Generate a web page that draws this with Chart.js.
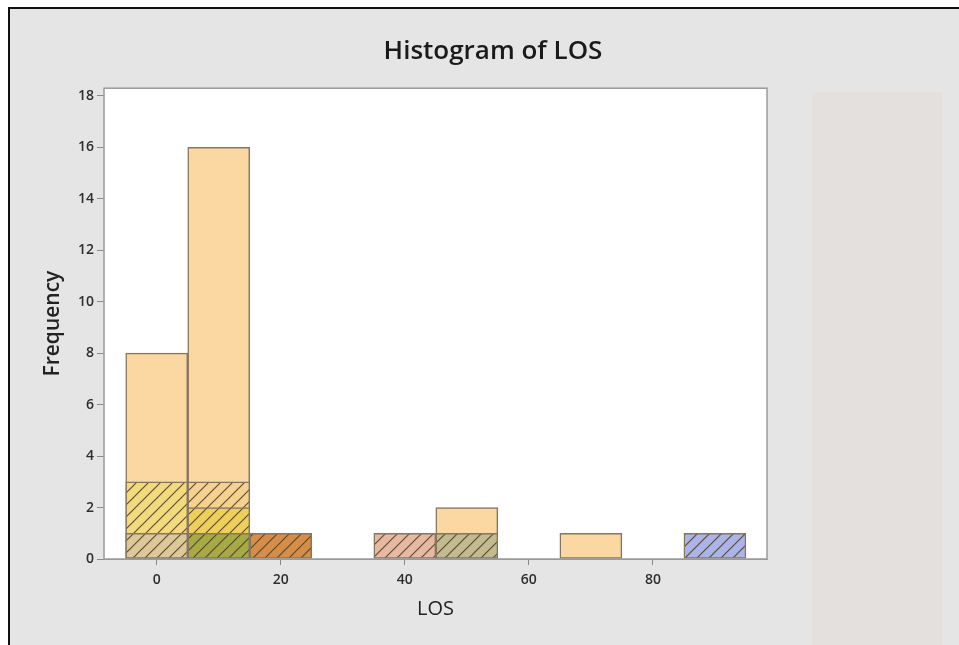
<!DOCTYPE html>
<html>
<head>
<meta charset="utf-8">
<script src="https://cdn.jsdelivr.net/npm/chart.js@4"></script>
<style>
  html, body { margin: 0; padding: 0; background: #ffffff; }
  .frame {
    position: absolute; left: 8px; top: 7px; width: 949px; height: 636px;
    border-left: 2px solid #111; border-top: 2px solid #111;
    background: #e5e5e5;
  }
  .side-panel {
    position: absolute; left: 802px; top: 83px; width: 130px; height: 553px;
    background: #e4e0dd;
  }
  #histChart { position: absolute; left: 0; top: 0; }
</style>
</head>
<body>
<div class="frame">
  <div class="side-panel"></div>
  <canvas id="histChart" width="949" height="636"></canvas>
</div>
<script>
// ========== Data ==========
const binCenters = [0, 10, 20, 30, 40, 50, 60, 70, 80, 90];

// overlaid groups, drawn from the back to the front
const groupPlain  = [8, 16, null, null, null, 2, null, 1, null, null];
const groupThree  = [3, 3, null, null, null, null, null, null, null, null];
const groupTwo    = [null, 2, null, null, null, null, null, null, null, null];
const groupSingle = [1, 1, 1, null, 1, 1, null, null, null, 1];

const yTicks = [0, 2, 4, 6, 8, 10, 12, 14, 16, 18];
const xTicks = [0, 20, 40, 60, 80];

const peach = '#fbd8a1';
const edge = '#85765f';
const threeColors  = ['#f4da7e', '#f6d18f'];
const twoColors    = [null, '#eecf5c'];
const singleColors = ['#dcc899', '#a5aa44', '#d68d48', null, '#e8b9a2', '#c2bb90', null, null, null, '#abb4e8'];

// diagonal hatch pattern on a base fill
function hatch(base) {
  if (!base) return 'rgba(0,0,0,0)';
  const size = 12;
  const c = document.createElement('canvas');
  c.width = size; c.height = size;
  const g = c.getContext('2d');
  g.fillStyle = base;
  g.fillRect(0, 0, size, size);
  g.strokeStyle = 'rgba(80, 64, 36, 0.9)';
  g.lineWidth = 1.2;
  g.beginPath();
  g.moveTo(0, size); g.lineTo(size, 0);
  g.moveTo(-size / 2, size / 2); g.lineTo(size / 2, -size / 2);
  g.moveTo(size / 2, size * 1.5); g.lineTo(size * 1.5, size / 2);
  g.stroke();
  return g.createPattern(c, 'repeat');
}

function toPoints(values) {
  return binCenters.map((x, i) => ({ x: x, y: values[i] }));
}

function barSet(label, values, fill, order) {
  return {
    label: label,
    data: toPoints(values),
    backgroundColor: fill,
    borderColor: edge,
    borderWidth: 1.5,
    borderSkipped: false,
    grouped: false,
    barPercentage: 1,
    categoryPercentage: 1,
    order: order
  };
}

const plotFrame = {
  id: 'plotFrame',
  beforeDatasetsDraw(chart) {
    const { ctx, chartArea: a } = chart;
    ctx.save();
    ctx.fillStyle = '#ffffff';
    ctx.fillRect(a.left, a.top, a.right - a.left, a.bottom - a.top);
    ctx.restore();
  },
  afterDraw(chart) {
    const { ctx, chartArea: a } = chart;
    ctx.save();
    ctx.strokeStyle = '#9a9a9a';
    ctx.lineWidth = 1.5;
    ctx.strokeRect(a.left, a.top, a.right - a.left, a.bottom - a.top);
    ctx.restore();
  }
};

const tickFont = { family: 'Open Sans', size: 14, weight: '600' };

new Chart(document.getElementById('histChart'), {
  type: 'bar',
  data: {
    datasets: [
      barSet('Group 1', groupPlain, peach, 4),
      barSet('Group 2', groupThree, groupThree.map((v, i) => hatch(threeColors[i])), 3),
      barSet('Group 3', groupTwo, groupTwo.map((v, i) => hatch(twoColors[i])), 2),
      barSet('Group 4', groupSingle, groupSingle.map((v, i) => hatch(singleColors[i])), 1)
    ]
  },
  options: {
    responsive: false,
    animation: false,
    layout: { padding: { left: 17, right: 0, top: 0, bottom: 0 } },
    plugins: {
      legend: { display: false },
      tooltip: { enabled: false },
      title: {
        display: true,
        text: 'Histogram of LOS',
        color: '#1a1a1a',
        font: { family: 'Open Sans', size: 26, weight: '600' },
        padding: { top: 27, bottom: 21 }
      }
    },
    scales: {
      x: {
        type: 'linear',
        offset: false,
        min: -8.5,
        max: 98.4,
        afterFit: s => { s.height = 86; },
        afterBuildTicks: s => { s.ticks = xTicks.map(v => ({ value: v })); },
        ticks: { color: '#2e2e2e', font: tickFont, padding: 7 },
        grid: { display: true, offset: false, drawOnChartArea: false, drawTicks: true, tickLength: 6, color: '#8a8a8a' },
        border: { display: true, color: '#9a9a9a' },
        title: {
          display: true,
          text: 'LOS',
          color: '#222',
          font: { family: 'Open Sans', size: 20 },
          padding: { top: 0, bottom: 24 }
        }
      },
      y: {
        type: 'linear',
        min: 0,
        max: 18.3,
        afterFit: s => { s.width = 77; },
        afterBuildTicks: s => { s.ticks = yTicks.map(v => ({ value: v })); },
        ticks: { color: '#2e2e2e', font: tickFont, padding: 3 },
        grid: { display: true, drawOnChartArea: false, drawTicks: true, tickLength: 7, color: '#8a8a8a' },
        border: { display: true, color: '#9a9a9a' },
        title: {
          display: true,
          text: 'Frequency',
          color: '#222',
          font: { family: 'Open Sans', size: 21, weight: '600' },
          padding: { top: 13, bottom: 0 }
        }
      },
      // empty right-hand box that keeps room for the grey side panel
      side: {
        type: 'linear',
        axis: 'y',
        position: 'right',
        afterFit: s => { s.width = 192; },
        ticks: { display: false },
        grid: { display: false },
        border: { display: false }
      }
    }
  },
  plugins: [plotFrame]
});
</script>
</body>
</html>
